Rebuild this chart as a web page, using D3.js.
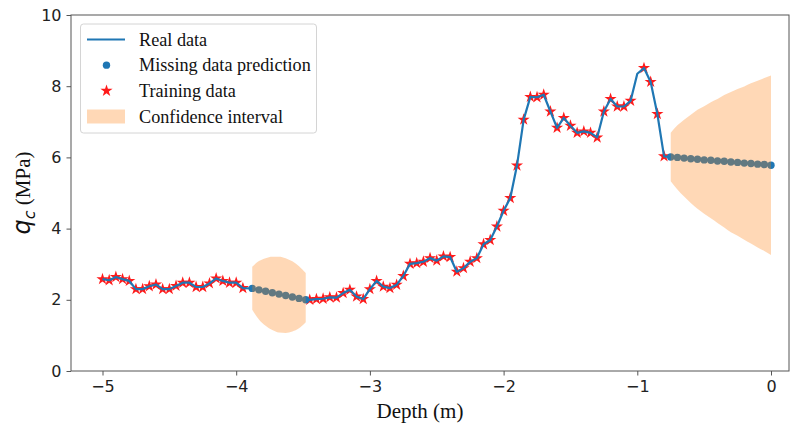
<!DOCTYPE html>
<html>
<head>
<meta charset="utf-8">
<script src="https://cdn.jsdelivr.net/npm/d3@7"></script>
<style>
  body { margin: 0; background: #fff; }
  .tick text { font-family: "DejaVu Sans", sans-serif; font-size: 16px; fill: #222; }
</style>
</head>
<body>
<div id="chart"></div>
<script>
// training data (stars)
var trainDepth = [-5.00, -4.95, -4.90, -4.85, -4.80, -4.75, -4.70, -4.65, -4.60, -4.55, -4.50,
  -4.45, -4.40, -4.35, -4.30, -4.25, -4.20, -4.15, -4.10, -4.05, -4.00, -3.95,
  -3.45, -3.40, -3.35, -3.30, -3.25, -3.20, -3.15, -3.10, -3.05, -3.00, -2.95,
  -2.90, -2.85, -2.80, -2.75, -2.70, -2.65, -2.60, -2.55, -2.50, -2.45, -2.40,
  -2.35, -2.30, -2.25, -2.20, -2.15, -2.10, -2.05, -2.00, -1.95, -1.90, -1.85,
  -1.80, -1.75, -1.70, -1.65, -1.60, -1.55, -1.50, -1.45, -1.40, -1.35, -1.30,
  -1.25, -1.20, -1.15, -1.10, -1.05, -0.95, -0.90, -0.85, -0.80];
var trainQc = [2.58, 2.55, 2.64, 2.58, 2.53, 2.30, 2.30, 2.38, 2.43, 2.30, 2.30,
  2.39, 2.48, 2.48, 2.36, 2.36, 2.46, 2.60, 2.53, 2.48, 2.48, 2.33,
  2.00, 2.02, 2.03, 2.07, 2.06, 2.19, 2.28, 2.09, 2.02, 2.30, 2.53,
  2.37, 2.33, 2.42, 2.67, 3.01, 3.03, 3.07, 3.17, 3.10, 3.22, 3.20,
  2.79, 2.89, 3.07, 3.17, 3.56, 3.68, 4.06, 4.50, 4.86, 5.77, 7.06,
  7.70, 7.69, 7.76, 7.29, 6.83, 7.11, 6.89, 6.69, 6.73, 6.69, 6.56,
  7.29, 7.64, 7.43, 7.43, 7.59, 8.51, 8.12, 7.22, 6.03];

// real points that are not in the training set
var extraDepth = [-1.00];
var extraQc = [8.35];

// missing data prediction + confidence interval
var predDepth = [-3.88, -3.83, -3.78, -3.73, -3.68, -3.63, -3.58, -3.53, -3.48,
  -0.75, -0.70, -0.65, -0.60, -0.55, -0.50, -0.45, -0.40, -0.35, -0.30, -0.25,
  -0.20, -0.15, -0.10, -0.05, 0.00];
var predQc = [2.32, 2.28, 2.24, 2.20, 2.16, 2.12, 2.08, 2.04, 2.00,
  6.01, 6.00, 5.98, 5.96, 5.95, 5.93, 5.92, 5.90, 5.89, 5.87, 5.86,
  5.84, 5.83, 5.81, 5.80, 5.78];
var ciUpper = [2.93, 3.09, 3.17, 3.21, 3.21, 3.17, 3.08, 2.94, 2.75,
  6.69, 6.90, 7.06, 7.20, 7.34, 7.44, 7.55, 7.64, 7.75, 7.84, 7.92,
  7.99, 8.08, 8.15, 8.23, 8.30];
var ciLower = [1.72, 1.45, 1.27, 1.15, 1.08, 1.07, 1.11, 1.20, 1.37,
  5.33, 5.10, 4.90, 4.72, 4.56, 4.42, 4.29, 4.16, 4.03, 3.90, 3.80,
  3.69, 3.58, 3.47, 3.37, 3.26];
var gaps = [[-3.88, -3.48], [-0.75, 0.00]];

var xTicks = [-5, -4, -3, -2, -1, 0];
var yTicks = [0, 2, 4, 6, 8, 10];

var svgWidth = 790;
var svgHeight = 427;
var plot = { left: 71, right: 789, top: 15, bottom: 371 };

var svg = d3.select("#chart")
  .append("svg")
  .attr("width", svgWidth)
  .attr("height", svgHeight);

var xScale = d3.scaleLinear().domain([-5, 0]).range([102.5, 771]);
var yScale = d3.scaleLinear().domain([0, 10]).range([plot.bottom, plot.top]);

svg.append("clipPath").attr("id", "clip")
  .append("rect")
  .attr("x", plot.left).attr("y", plot.top)
  .attr("width", plot.right - plot.left).attr("height", plot.bottom - plot.top);

var train = trainDepth.map((d, i) => ({ depth: d, qc: trainQc[i] }));
var pred = predDepth.map((d, i) => ({ depth: d, qc: predQc[i], lo: ciLower[i], hi: ciUpper[i] }));
var extra = extraDepth.map((d, i) => ({ depth: d, qc: extraQc[i] }));
var real = train.concat(pred, extra).sort((a, b) => a.depth - b.depth);

var g = svg.append("g").attr("clip-path", "url(#clip)");

// training stars
g.selectAll(".star")
  .data(train)
  .enter()
  .append("path")
  .attr("class", "star")
  .attr("transform", d => `translate(${xScale(d.depth)},${yScale(d.qc)})`)
  .attr("d", d3.symbol().type(d3.symbolStar).size(46))
  .attr("fill", "#ff1a1a");

// real data line
g.append("path")
  .datum(real)
  .attr("fill", "none")
  .attr("stroke", "#1f77b4")
  .attr("stroke-width", 2.2)
  .attr("stroke-linejoin", "round")
  .attr("d", d3.line().x(d => xScale(d.depth)).y(d => yScale(d.qc)));

// prediction dots
g.selectAll(".dot")
  .data(pred)
  .enter()
  .append("circle")
  .attr("cx", d => xScale(d.depth))
  .attr("cy", d => yScale(d.qc))
  .attr("r", 3.7)
  .attr("fill", "#1f77b4");

// confidence bands drawn on top
var area = d3.area()
  .curve(d3.curveMonotoneX)
  .x(d => xScale(d.depth))
  .y0(d => yScale(d.lo))
  .y1(d => yScale(d.hi));

gaps.forEach(function(gp) {
  g.append("path")
    .datum(pred.filter(d => d.depth >= gp[0] - 1e-9 && d.depth <= gp[1] + 1e-9))
    .attr("fill", "#ff7f0e")
    .attr("fill-opacity", 0.3)
    .attr("d", area);
});

// spines
svg.append("rect")
  .attr("x", plot.left).attr("y", plot.top)
  .attr("width", plot.right - plot.left).attr("height", plot.bottom - plot.top)
  .attr("fill", "none")
  .attr("stroke", "#555")
  .attr("stroke-width", 1);

var xAxis = svg.append("g")
  .attr("transform", `translate(0, ${plot.bottom})`)
  .call(d3.axisBottom(xScale).tickValues(xTicks).tickSize(4.5).tickPadding(5)
    .tickFormat(d => d < 0 ? "\u2212" + Math.abs(d) : d));
xAxis.select(".domain").remove();
xAxis.selectAll(".tick line").attr("stroke", "#555");

var yAxis = svg.append("g")
  .attr("transform", `translate(${plot.left}, 0)`)
  .call(d3.axisLeft(yScale).tickValues(yTicks).tickSize(4.5).tickPadding(5));
yAxis.select(".domain").remove();
yAxis.selectAll(".tick line").attr("stroke", "#555");

// axis labels
svg.append("text")
  .attr("x", 420)
  .attr("y", 418)
  .attr("text-anchor", "middle")
  .attr("font-family", "Liberation Serif, serif")
  .attr("font-size", 21)
  .attr("fill", "#111")
  .text("Depth (m)");

var yl = svg.append("text")
  .attr("transform", `translate(30, ${(plot.top + plot.bottom) / 2}) rotate(-90)`)
  .attr("text-anchor", "middle")
  .attr("fill", "#111");
yl.append("tspan")
  .attr("font-family", "DejaVu Sans, sans-serif")
  .attr("font-style", "italic")
  .attr("font-size", 24)
  .text("q");
yl.append("tspan")
  .attr("font-family", "DejaVu Sans, sans-serif")
  .attr("font-style", "italic")
  .attr("font-size", 16)
  .attr("dy", 5)
  .text("c");
yl.append("tspan")
  .attr("font-family", "Liberation Serif, serif")
  .attr("font-size", 21)
  .attr("dy", -5)
  .text(" (MPa)");

// legend
var legend = svg.append("g");
legend.append("rect")
  .attr("x", 80.5).attr("y", 24)
  .attr("width", 236).attr("height", 109)
  .attr("rx", 3)
  .attr("fill", "#fff")
  .attr("fill-opacity", 0.8)
  .attr("stroke", "#d4d4d4");

var legendLabels = ["Real data", "Missing data prediction", "Training data", "Confidence interval"];
var rowY = d3.scaleLinear().domain([0, 3]).range([39.5, 116.5]);

legend.append("line")
  .attr("x1", 87).attr("x2", 125)
  .attr("y1", rowY(0)).attr("y2", rowY(0))
  .attr("stroke", "#1f77b4").attr("stroke-width", 2.2);
legend.append("circle")
  .attr("cx", 106.5).attr("cy", rowY(1)).attr("r", 3.7)
  .attr("fill", "#1f77b4");
legend.append("path")
  .attr("transform", `translate(106.5, ${rowY(2)})`)
  .attr("d", d3.symbol().type(d3.symbolStar).size(46))
  .attr("fill", "#ff1a1a");
legend.append("rect")
  .attr("x", 87).attr("y", rowY(3) - 7)
  .attr("width", 38).attr("height", 14)
  .attr("fill", "#ff7f0e").attr("fill-opacity", 0.3);

legend.selectAll(".lab")
  .data(legendLabels)
  .enter()
  .append("text")
  .attr("x", 139)
  .attr("y", (d, i) => rowY(i))
  .attr("dy", "0.33em")
  .attr("font-family", "Liberation Serif, serif")
  .attr("font-size", 18.2)
  .attr("fill", "#111")
  .text(d => d);
</script>
</body>
</html>
